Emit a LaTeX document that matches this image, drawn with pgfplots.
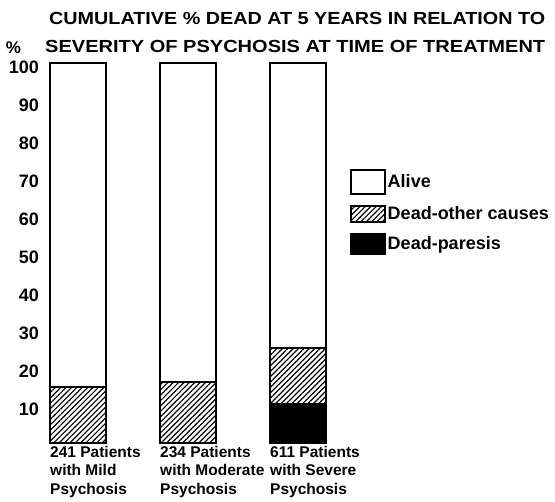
\documentclass[border=0pt]{standalone}
\usepackage{pgfplots}
\pgfplotsset{compat=1.18}
\usepackage{graphicx}
\usepackage{fontspec}
\setmainfont{Liberation Sans}
\usetikzlibrary{patterns.meta}
\begin{document}
\begin{tikzpicture}[x=1pt,y=1pt]
\path[use as bounding box] (0,0) rectangle (555,502);
\begin{axis}[
  at={(39.5pt,59pt)}, anchor=south west,
  scale only axis, width=313.5pt, height=380pt,
  xmin=-0.35, xmax=2.5, ymin=0, ymax=100,
  clip=false,
  ybar stacked, bar width=56pt,
  axis line style={draw=none},
  major tick length=0pt, tick style={draw=none},
  xtick={0,1,2},
  xticklabels={{241 Patients\\with Mild\\Psychosis},{234 Patients\\with Moderate\\Psychosis},{611 Patients\\with Severe\\Psychosis}},
  xticklabel style={align=left, anchor=north west, xshift=-28pt, yshift=-3pt, inner sep=0pt, font=\fontsize{15.5}{18.5}\selectfont\bfseries},
  ytick={10,20,30,40,50,60,70,80,90,100},
  yticklabel style={font=\fontsize{18}{20}\selectfont\bfseries, xshift=3pt, yshift=-4pt},
  /pgf/number format/assume math mode=true,
  legend style={draw=none, fill=none, at={(0.981,0.726)}, anchor=north west,
    row sep=10pt, font=\fontsize{18}{19}\selectfont\bfseries,
    /tikz/every even column/.append style={column sep=4pt}},
  legend cell align=left,
  reverse legend,
  every axis plot/.append style={draw=black, line width=1.6pt},
]
\addplot[fill=black, legend image code/.code={\draw[fill=black, draw=black, line width=1.5pt] (0pt,-10pt) rectangle (34pt,10pt);}]
  coordinates {(0,0) (1,0) (2,10.3)};
\addlegendentry{Dead-paresis}
\addplot[pattern={Lines[angle=45, distance=3.8pt, line width=1.2pt]}, legend image code/.code={\draw[pattern={Lines[angle=45, distance=3.8pt, line width=1.2pt]}, draw=black, line width=1.5pt] (0pt,-8pt) rectangle (34pt,8pt);}]
  coordinates {(0,14.7) (1,16.1) (2,14.7)};
\addlegendentry{Dead-other causes}
\addplot[fill=white, legend image code/.code={\draw[fill=white, draw=black, line width=1.5pt] (0pt,-12pt) rectangle (34pt,12pt);}]
  coordinates {(0,85.3) (1,83.9) (2,75.0)};
\addlegendentry{Alive}
\end{axis}
\node[anchor=base west, inner sep=0pt] at (49,477) {\resizebox{496pt}{\height}{\fontsize{17.5}{19}\selectfont\bfseries CUMULATIVE \% DEAD AT 5 YEARS IN RELATION TO}};
\node[anchor=base west, inner sep=0pt] at (45,449) {\resizebox{500pt}{\height}{\fontsize{17.5}{19}\selectfont\bfseries SEVERITY OF PSYCHOSIS AT TIME OF TREATMENT}};
\node[anchor=base, inner sep=0pt] at (13.5,448) {\fontsize{17}{19}\selectfont\bfseries\%};
\end{tikzpicture}
\end{document}
